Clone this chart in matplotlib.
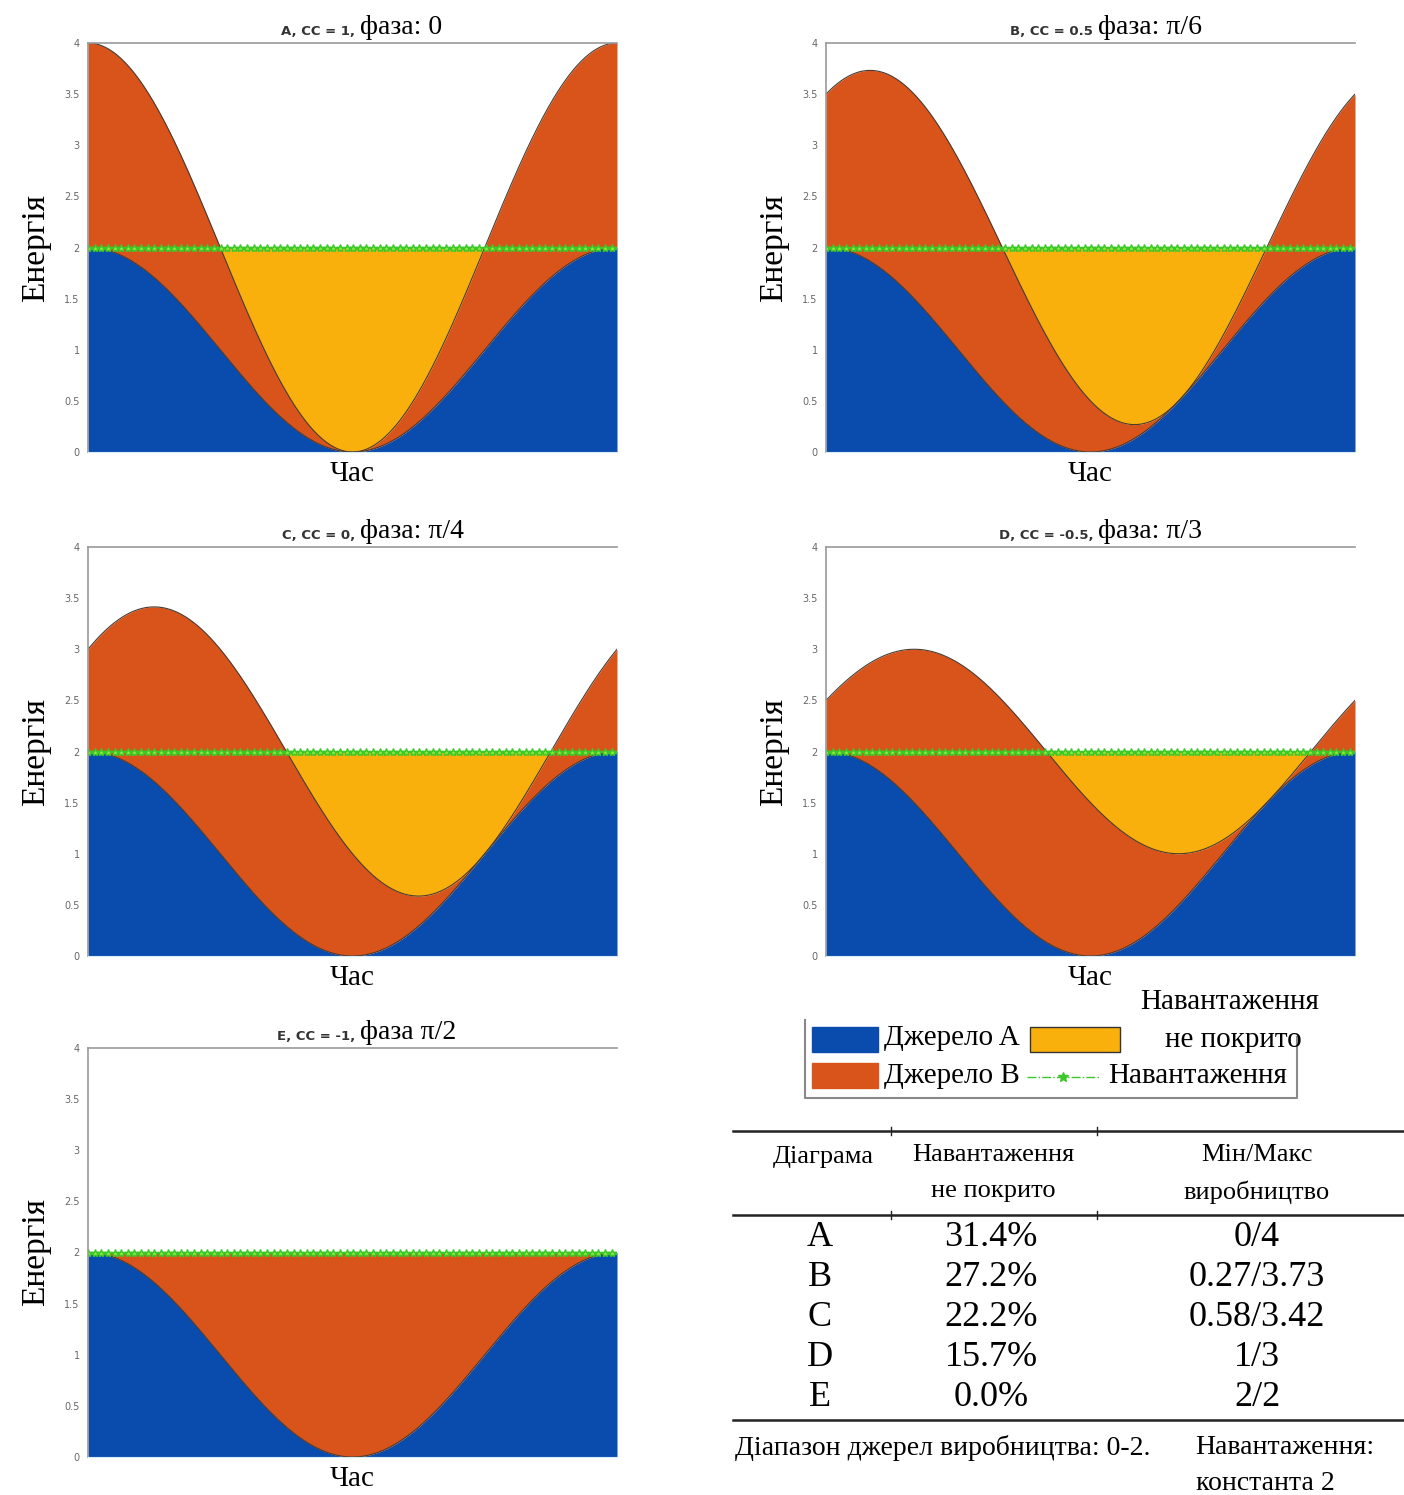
import numpy as np
import matplotlib
matplotlib.use('Agg')
import matplotlib.pyplot as plt
from matplotlib.patches import Rectangle

plt.rcParams['font.family'] = ['Liberation Serif', 'DejaVu Serif']

############################################################################
# data
############################################################################
panels = ['A', 'B', 'C', 'D', 'E']
cc_text = ['A, CC = 1,', 'B, CC = 0.5', 'C, CC = 0,', 'D, CC = -0.5,', 'E, CC = -1,']
phase_text = ['фаза: 0', 'фаза: π/6', 'фаза: π/4', 'фаза: π/3', 'фаза π/2']
phases = [0, np.pi / 6, np.pi / 4, np.pi / 3, np.pi / 2]
src_mean = 1.0      # sources range 0-2
src_amp = 1.0
load_level = 2.0
unmet_pct = ['31.4%', '27.2%', '22.2%', '15.7%', '0.0%']
min_max = ['0/4', '0.27/3.73', '0.58/3.42', '1/3', '2/2']
yticks = [0, 0.5, 1, 1.5, 2, 2.5, 3, 3.5, 4]
ytick_labels = ['0', '0.5', '1', '1.5', '2', '2.5', '3', '3.5', '4']

c_a = '#0a4cae'
c_b = '#d9541a'
c_u = '#f9b00c'
c_load = '#3cc82a'
c_edge = '#4a3a30'

W, H = 1404, 1495
fig = plt.figure(figsize=(W / 100, H / 100), dpi=100)

# axes boxes in pixels (left, top)
boxes = [(88, 43), (826, 43), (88, 547), (826, 547), (88, 1048)]
aw, ah = 529, 409

t = np.linspace(0, 2 * np.pi, 400)

for i, (x0, y0) in enumerate(boxes):
    ax = fig.add_axes([x0 / W, 1 - (y0 + ah) / H, aw / W, ah / H])
    src1 = src_mean + src_amp * np.cos(t)
    src2 = src_mean + src_amp * np.cos(t - 2 * phases[i])
    tot = src1 + src2
    unmet = np.clip(load_level - tot, 0, None)

    ax.fill_between(t, 0, src1, color=c_a, lw=0)
    ax.fill_between(t, src1, tot, color=c_b, lw=0)
    ax.fill_between(t, tot, tot + unmet, color=c_u, lw=0)
    ax.plot(t, src1, color=c_edge, lw=0.8)
    ax.plot(t, tot, color=c_edge, lw=0.8)
    ax.plot(t, np.full_like(t, load_level), ls='-.', color=c_load, lw=2.5,
            marker='*', markersize=6, markevery=5, mfc='#8fe83a', mec=c_load)

    ax.set_xlim(t[0], t[-1])
    ax.set_ylim(0, 4)
    ax.set_xticks([])
    ax.set_yticks(yticks)
    ax.set_yticklabels(ytick_labels, family='DejaVu Sans', fontsize=7, color='#666666')
    ax.tick_params(axis='y', length=0, pad=6)
    for s in ['top', 'left']:
        ax.spines[s].set_color('#999999')
        ax.spines[s].set_linewidth(1.2)
    ax.spines['right'].set_visible(False)
    ax.spines['bottom'].set_color('#d5ecf7')

    ax.set_ylabel('Енергія', fontsize=24)
    ax.yaxis.set_label_coords(-0.07, 0.5)
    ax.set_xlabel('Час', fontsize=21)
    ax.xaxis.set_label_coords(0.5, -0.022)

    ax.text(0.505, 1.012, cc_text[i], transform=ax.transAxes, ha='right', va='bottom',
            family='DejaVu Sans', fontsize=9.5, fontweight='bold', color='#333333')
    ax.text(0.515, 1.008, phase_text[i], transform=ax.transAxes, ha='left', va='bottom',
            fontsize=20)

############################################################################
# legend + table (pixel overlay)
############################################################################
lay = fig.add_axes([0, 0, 1, 1])
lay.set_xlim(0, W)
lay.set_ylim(H, 0)
lay.axis('off')

# legend frame
lay.plot([805, 805, 1297, 1297], [1020, 1098, 1098, 1037], color='#888888', lw=1.5)
lay.add_patch(Rectangle((812, 1027), 66, 25, color=c_a))
lay.add_patch(Rectangle((812, 1063), 66, 25, color=c_b))
lay.add_patch(Rectangle((1030, 1027), 90, 25, facecolor=c_u, edgecolor='#333333', lw=1))
lay.plot([1027, 1100], [1077, 1077], ls='-.', color=c_load, lw=1)
lay.plot([1063], [1077], marker='*', color=c_load, markersize=7)
lay.text(884, 1038, 'Джерело A', fontsize=21, va='center', ha='left')
lay.text(884, 1076, 'Джерело B', fontsize=21, va='center', ha='left')
lay.text(1230, 1002, 'Навантаження', fontsize=21, va='center', ha='center')
lay.text(1233, 1040, 'не покрито', fontsize=21, va='center', ha='center')
lay.text(1108, 1076, 'Навантаження', fontsize=21, va='center', ha='left')

# table rules
for yr in [1131, 1215, 1420]:
    lay.plot([733, W], [yr, yr], color='#222222', lw=1.8)
for xs in [891, 1097]:
    for yr in [1131, 1215]:
        lay.plot([xs, xs], [yr - 4, yr + 4], color='#222222', lw=1)

lay.text(823, 1157, 'Діаграма', fontsize=19, ha='center', va='center')
lay.text(993, 1155, 'Навантаження', fontsize=19, ha='center', va='center')
lay.text(993, 1191, 'не покрито', fontsize=19, ha='center', va='center')
lay.text(1257, 1155, 'Мін/Макс', fontsize=19, ha='center', va='center')
lay.text(1257, 1192, 'виробництво', fontsize=19, ha='center', va='center')

row_y = [1237, 1277, 1318, 1358, 1398]
for j in range(len(panels)):
    lay.text(820, row_y[j], panels[j], fontsize=26, ha='center', va='center')
    lay.text(991, row_y[j], unmet_pct[j], fontsize=26, ha='center', va='center')
    lay.text(1257, row_y[j], min_max[j], fontsize=26, ha='center', va='center')

lay.text(735, 1448, 'Діапазон джерел виробництва: 0-2.', fontsize=20, ha='left', va='center')
lay.text(1195, 1448, 'Навантаження:', fontsize=20, ha='left', va='center')
lay.text(1265, 1483, 'константа 2', fontsize=20, ha='center', va='center')

fig.savefig('out.png', dpi=100)
